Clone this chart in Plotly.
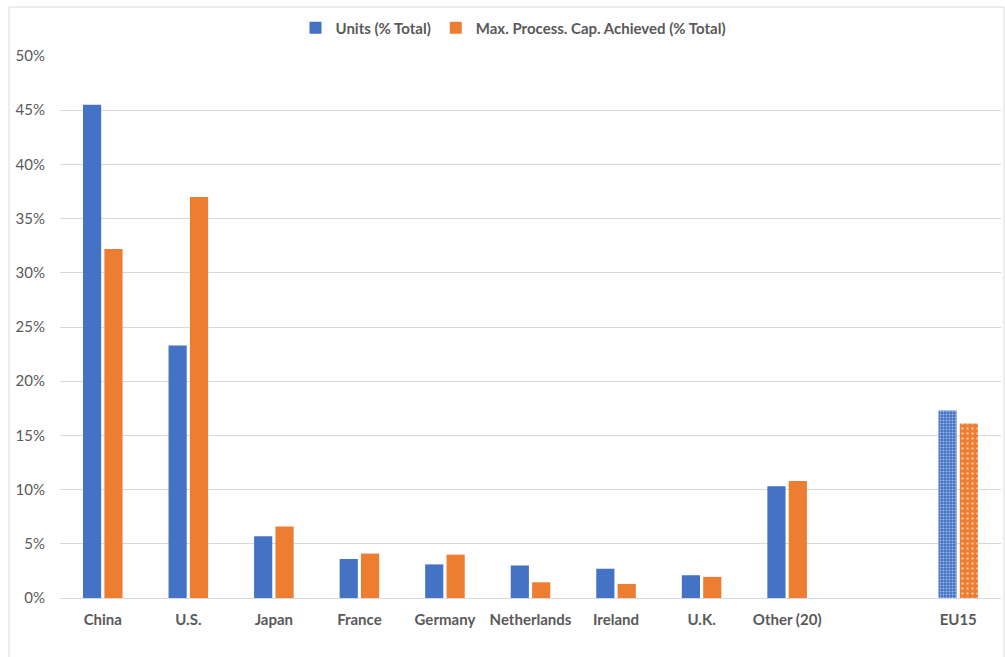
import plotly.graph_objects as go

categories = ["China", "U.S.", "Japan", "France", "Germany", "Netherlands",
              "Ireland", "U.K.", "Other (20)", " ", "EU15"]
units = [0.455, 0.233, 0.057, 0.036, 0.031, 0.030, 0.027, 0.021, 0.103, None, 0.173]
capacity = [0.322, 0.370, 0.066, 0.041, 0.040, 0.0145, 0.013, 0.0195, 0.108, None, 0.161]
patterns = ["", "", "", "", "", "", "", "", "", "", "."]

BLUE = "#4472C4"
ORANGE = "#ED7D31"
TXT = "#595959"

fig = go.Figure()
fig.add_trace(go.Bar(
    x=categories, y=units, name="Units (% Total)",
    marker=dict(color=BLUE, line=dict(width=0),
                pattern=dict(shape=patterns, fgcolor="white", bgcolor=BLUE,
                             size=3, solidity=0.35, fillmode="overlay")),
))
fig.add_trace(go.Bar(
    x=categories, y=capacity, name="Max. Process. Cap. Achieved (% Total)",
    marker=dict(color=ORANGE, line=dict(width=0),
                pattern=dict(shape=patterns, fgcolor="white", bgcolor=ORANGE,
                             size=5, solidity=0.2, fillmode="overlay")),
))

fig.update_layout(
    width=1005, height=657,
    margin=dict(l=60, r=4, t=56, b=59, autoexpand=False),
    paper_bgcolor="white", plot_bgcolor="white",
    barmode="group", bargap=0.5, bargroupgap=0.15,
    font=dict(family="Lato, Carlito, sans-serif", color=TXT, size=15),
    showlegend=True,
    legend=dict(orientation="h", x=(513 - 60) / 941, xanchor="center", y=(598 - 28) / 542,
                yanchor="middle",
                font=dict(size=15, color=TXT, family="Lato, sans-serif", weight="bold"),
                itemwidth=30, traceorder="normal"),
    xaxis=dict(type="category", showgrid=False, showline=True, linecolor="#D9D9D9",
               linewidth=1, ticks="", tickfont=dict(size=15, color=TXT, weight="bold"),
               ticklabelstandoff=8),
    yaxis=dict(range=[0, 0.5], dtick=0.05, tickformat=".0%", showgrid=True,
               gridcolor="#D9D9D9", gridwidth=1, zeroline=False, showline=False,
               tickfont=dict(size=15, color=TXT), ticks="", ticklabelstandoff=14),
    shapes=[dict(type="rect", xref="paper", yref="paper",
                 x0=(9 - 60) / 941, x1=(1004 - 60) / 941,
                 y0=(598 - 662) / 542, y1=(598 - 7) / 542,
                 line=dict(color="#D9D9D9", width=1), fillcolor="rgba(0,0,0,0)",
                 layer="below")],
)

fig.write_html("out.html")
